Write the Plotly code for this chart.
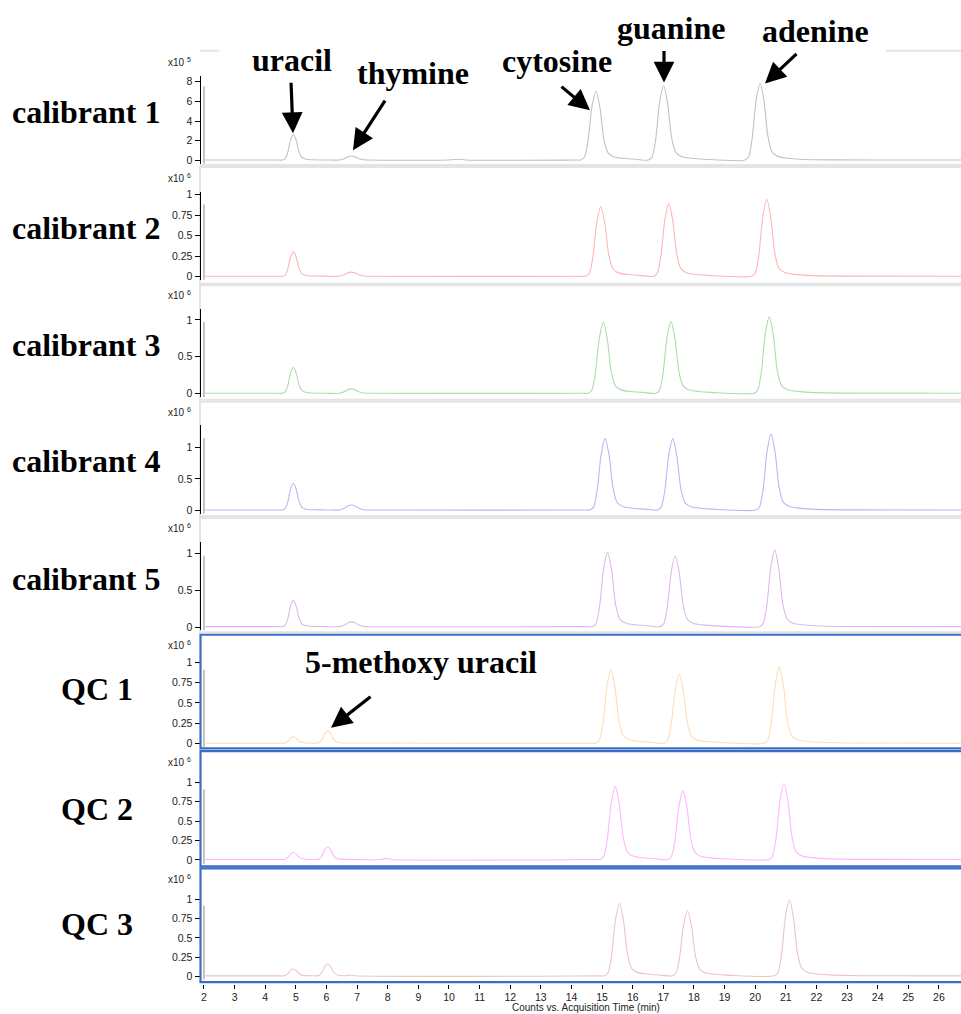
import plotly.graph_objects as go

W, H = 961, 1014

# ---------------- data ----------------
PANEL_NAMES = ["calibrant 1", "calibrant 2", "calibrant 3", "calibrant 4", "calibrant 5", "QC 1", "QC 2", "QC 3"]
SCALE_EXP = ["5", "6", "6", "6", "6", "6", "6", "6"]
LINE_COLORS = ["#c2c2c2", "#ffb6b6", "#addcad", "#b8b8f5", "#ddb8e8", "#ffdcb4", "#ffb6ff", "#e8c6c6"]

U10 = [4.56, 4.65, 4.74, 4.83, 4.92, 5.01, 5.10, 5.20, 5.34, 5.52]
TH8 = [6.42, 6.60, 6.72, 6.82, 6.92, 7.04, 7.22, 7.37]
M10 = [5.68, 5.77, 5.86, 5.95, 6.04, 6.13, 6.22, 6.32, 6.46, 6.64]

CAL1_T = [2.0, 4.4] + U10 + [6.0] + TH8 + [10.0, 10.28, 10.55, 14.2,
          14.30, 14.42, 14.54, 14.67, 14.80, 14.93, 15.06, 15.20, 15.40, 15.70, 16.10,
          16.51, 16.63, 16.75, 16.88, 17.01, 17.14, 17.27, 17.41, 17.61, 17.91, 18.31,
          19.66, 19.78, 19.90, 20.03, 20.16, 20.29, 20.42, 20.56, 20.76, 21.06, 21.46,
          22.5, 25.8, 26.72]
CAL1_Y = [0.03, 0.03, 0.03, 0.16, 0.86, 2.11, 2.63, 2.06, 0.91, 0.29, 0.11, 0.06, 0.04,
          0.04, 0.20, 0.39, 0.44, 0.38, 0.20, 0.06, 0.04, 0.04, 0.12, 0.04, 0.03,
          0.03, 0.31, 1.99, 5.49, 7.03, 5.35, 2.13, 0.73, 0.35, 0.21, 0.11,
          0.03, 0.33, 2.14, 5.92, 7.58, 5.77, 2.30, 0.79, 0.37, 0.22, 0.12,
          0.03, 0.34, 2.21, 6.10, 7.81, 5.94, 2.36, 0.81, 0.38, 0.22, 0.12,
          0.05, 0.04, 0.03]

CAL2_T = [2.0, 4.4] + U10 + [6.0] + TH8 + [14.3,
          14.46, 14.58, 14.70, 14.83, 14.96, 15.09, 15.22, 15.36, 15.56, 15.86, 16.26,
          16.68, 16.80, 16.92, 17.05, 17.18, 17.31, 17.44, 17.58, 17.78, 18.08, 18.48,
          19.88, 20.00, 20.12, 20.25, 20.38, 20.51, 20.64, 20.78, 20.98, 21.28, 21.68,
          23.0, 26.72]
CAL2_Y = [0.005, 0.005, 0.005, 0.02, 0.101, 0.245, 0.305, 0.239, 0.107, 0.035, 0.014, 0.008, 0.006,
          0.005, 0.025, 0.049, 0.055, 0.048, 0.025, 0.008, 0.005, 0.005,
          0.005, 0.039, 0.243, 0.668, 0.855, 0.651, 0.26, 0.09, 0.043, 0.026, 0.015,
          0.005, 0.040, 0.253, 0.695, 0.89, 0.678, 0.271, 0.094, 0.045, 0.027, 0.016,
          0.005, 0.042, 0.267, 0.734, 0.94, 0.716, 0.286, 0.099, 0.047, 0.028, 0.016,
          0.007, 0.005]

CAL3_T = [2.0, 4.4] + U10 + [6.0] + TH8 + [14.4,
          14.54, 14.66, 14.78, 14.91, 15.04, 15.17, 15.30, 15.44, 15.64, 15.94, 16.34,
          16.75, 16.87, 16.99, 17.12, 17.25, 17.38, 17.51, 17.65, 17.85, 18.15, 18.55,
          19.96, 20.08, 20.20, 20.33, 20.46, 20.59, 20.72, 20.86, 21.06, 21.36, 21.76,
          23.0, 26.72]
CAL3_Y = [0.005, 0.005, 0.005, 0.023, 0.117, 0.285, 0.355, 0.278, 0.124, 0.04, 0.016, 0.009, 0.006,
          0.005, 0.029, 0.058, 0.065, 0.056, 0.029, 0.008, 0.005, 0.005,
          0.005, 0.043, 0.274, 0.754, 0.965, 0.735, 0.293, 0.101, 0.048, 0.029, 0.017,
          0.005, 0.044, 0.277, 0.762, 0.975, 0.742, 0.296, 0.102, 0.049, 0.029, 0.017,
          0.005, 0.046, 0.295, 0.812, 1.04, 0.792, 0.316, 0.109, 0.052, 0.031, 0.017,
          0.007, 0.005]

CAL4_T = [2.0, 4.4] + U10 + [6.0] + TH8 + [14.45,
          14.60, 14.72, 14.84, 14.97, 15.10, 15.23, 15.36, 15.50, 15.70, 16.00, 16.40,
          16.81, 16.93, 17.05, 17.18, 17.31, 17.44, 17.57, 17.71, 17.91, 18.21, 18.61,
          20.02, 20.14, 20.26, 20.39, 20.52, 20.65, 20.78, 20.92, 21.12, 21.42, 21.82,
          23.0, 26.72]
CAL4_Y = [0.005, 0.005, 0.005, 0.026, 0.141, 0.345, 0.43, 0.337, 0.150, 0.048, 0.018, 0.009, 0.006,
          0.005, 0.037, 0.075, 0.085, 0.073, 0.037, 0.009, 0.005, 0.005,
          0.005, 0.050, 0.323, 0.890, 1.14, 0.868, 0.346, 0.119, 0.056, 0.033, 0.019,
          0.005, 0.050, 0.323, 0.890, 1.14, 0.868, 0.346, 0.119, 0.056, 0.033, 0.019,
          0.005, 0.053, 0.342, 0.945, 1.21, 0.921, 0.367, 0.126, 0.059, 0.035, 0.019,
          0.007, 0.005]

CAL5_T = [2.0, 4.4] + U10 + [6.0] + TH8 + [14.5,
          14.68, 14.80, 14.92, 15.05, 15.18, 15.31, 15.44, 15.58, 15.78, 16.08, 16.48,
          16.89, 17.01, 17.13, 17.26, 17.39, 17.52, 17.65, 17.79, 17.99, 18.29, 18.69,
          20.14, 20.26, 20.38, 20.51, 20.64, 20.77, 20.90, 21.04, 21.24, 21.54, 21.94,
          23.0, 26.72]
CAL5_Y = [0.005, 0.005, 0.005, 0.023, 0.119, 0.289, 0.36, 0.282, 0.126, 0.041, 0.016, 0.009, 0.006,
          0.005, 0.031, 0.062, 0.07, 0.060, 0.031, 0.008, 0.005, 0.005,
          0.005, 0.045, 0.286, 0.789, 1.01, 0.769, 0.307, 0.106, 0.050, 0.030, 0.017,
          0.005, 0.043, 0.272, 0.75, 0.96, 0.731, 0.292, 0.101, 0.048, 0.029, 0.016,
          0.005, 0.046, 0.295, 0.812, 1.04, 0.792, 0.316, 0.109, 0.052, 0.031, 0.017,
          0.007, 0.005]

QC1_T = [2.0, 4.4] + U10 + M10 + [14.6,
         14.79, 14.91, 15.03, 15.16, 15.29, 15.42, 15.55, 15.69, 15.89, 16.19, 16.59,
         17.02, 17.14, 17.26, 17.39, 17.52, 17.65, 17.78, 17.92, 18.12, 18.42, 18.82,
         20.29, 20.41, 20.53, 20.66, 20.79, 20.92, 21.05, 21.19, 21.39, 21.69, 22.09,
         23.5, 26.72]
QC1_Y = [0.005, 0.005, 0.005, 0.009, 0.031, 0.069, 0.085, 0.067, 0.032, 0.013, 0.007, 0.006,
         0.005, 0.013, 0.055, 0.129, 0.16, 0.126, 0.058, 0.021, 0.01, 0.007, 0.005,
         0.005, 0.041, 0.258, 0.711, 0.91, 0.693, 0.277, 0.096, 0.046, 0.028, 0.016,
         0.005, 0.039, 0.243, 0.668, 0.855, 0.651, 0.26, 0.09, 0.043, 0.026, 0.015,
         0.005, 0.043, 0.268, 0.738, 0.945, 0.719, 0.287, 0.099, 0.047, 0.029, 0.016,
         0.007, 0.005]

QC2_T = [2.0, 4.4] + U10 + M10 + [7.75, 7.95, 8.15, 14.75,
         14.93, 15.05, 15.17, 15.30, 15.43, 15.56, 15.69, 15.83, 16.03, 16.33, 16.73,
         17.14, 17.26, 17.38, 17.51, 17.64, 17.77, 17.90, 18.04, 18.24, 18.54, 18.94,
         20.44, 20.56, 20.68, 20.81, 20.94, 21.07, 21.20, 21.34, 21.54, 21.84, 22.24,
         23.5, 26.72]
QC2_Y = [0.005, 0.005, 0.005, 0.010, 0.034, 0.077, 0.095, 0.075, 0.036, 0.014, 0.008, 0.006,
         0.005, 0.013, 0.058, 0.137, 0.17, 0.134, 0.061, 0.022, 0.01, 0.007,
         0.005, 0.02, 0.005, 0.005,
         0.005, 0.043, 0.268, 0.738, 0.945, 0.719, 0.287, 0.099, 0.047, 0.029, 0.016,
         0.005, 0.040, 0.253, 0.695, 0.89, 0.678, 0.271, 0.094, 0.045, 0.027, 0.016,
         0.005, 0.044, 0.279, 0.769, 0.985, 0.75, 0.299, 0.103, 0.049, 0.030, 0.017,
         0.007, 0.005]

QC3_T = [2.0, 4.4] + U10 + M10 + [6.78, 6.92, 14.9,
         15.07, 15.19, 15.31, 15.44, 15.57, 15.70, 15.83, 15.97, 16.17, 16.47, 16.87,
         17.29, 17.41, 17.53, 17.66, 17.79, 17.92, 18.05, 18.19, 18.39, 18.69, 19.09,
         20.62, 20.74, 20.86, 20.99, 21.12, 21.25, 21.38, 21.52, 21.72, 22.02, 22.42,
         23.5, 26.72]
QC3_Y = [0.005, 0.005, 0.005, 0.010, 0.034, 0.077, 0.095, 0.075, 0.036, 0.014, 0.008, 0.006,
         0.005, 0.013, 0.055, 0.129, 0.16, 0.126, 0.058, 0.021, 0.01, 0.007,
         0.016, 0.006, 0.005,
         0.005, 0.043, 0.268, 0.738, 0.945, 0.719, 0.287, 0.099, 0.047, 0.029, 0.016,
         0.005, 0.039, 0.243, 0.668, 0.855, 0.651, 0.26, 0.09, 0.043, 0.026, 0.015,
         0.005, 0.045, 0.282, 0.777, 0.995, 0.757, 0.302, 0.104, 0.050, 0.030, 0.017,
         0.007, 0.005]

TRACE_T = [CAL1_T, CAL2_T, CAL3_T, CAL4_T, CAL5_T, QC1_T, QC2_T, QC3_T]
TRACE_Y = [CAL1_Y, CAL2_Y, CAL3_Y, CAL4_Y, CAL5_Y, QC1_Y, QC2_Y, QC3_Y]
# height of the grey start-of-run line at t = 2.0 min
START_T = 2.0
START_TOP = [7.5, 0.88, 0.97, 1.15, 0.965, 0.91, 0.91, 0.92]

Y_TICKS = [[0, 2, 4, 6, 8], [0, 0.25, 0.5, 0.75, 1], [0, 0.5, 1], [0, 0.5, 1], [0, 0.5, 1],
           [0, 0.25, 0.5, 0.75, 1], [0, 0.25, 0.5, 0.75, 1], [0, 0.25, 0.5, 0.75, 1]]
X_TICKS = list(range(2, 27))

# ---------------- layout geometry (pixels) ----------------
AX_TOP = [72.3, 189, 307, 424, 541, 659.3, 777, 893.3]
AX_BOT = [160.8, 277.5, 395.7, 512.8, 630, 748, 865, 981.5]
Y_RANGE = [[-0.354, 8.586], [-0.039, 1.033], [-0.05, 1.144], [-0.055, 1.348],
           [-0.044, 1.153], [-0.049, 1.037], [-0.051, 1.077], [-0.045, 1.096]]
EXP_Y = [58.5, 175.5, 293, 410, 527.5, 645, 762.5, 880.5]
LABEL_X = [86, 86, 86, 86, 86, 97, 97, 97]
LABEL_Y = [109, 225, 343, 460, 578, 689, 810, 925]
LABEL_SIZE = [32, 32, 32, 32, 32, 32, 32, 32]
X_LEFT = 200.5
X_RANGE = [1.886, 26.72]


def px(x):
    return x / W


def py(y):
    return 1 - y / H


for t, v in zip(TRACE_T, TRACE_Y):
    assert len(t) == len(v), (len(t), len(v))

fig = go.Figure()
layout = dict(
    width=W, height=H, autosize=False,
    margin=dict(l=0, r=0, t=0, b=0),
    paper_bgcolor="white", plot_bgcolor="rgba(0,0,0,0)",
    showlegend=False,
    xaxis=dict(domain=[px(X_LEFT), 1], range=X_RANGE, anchor="free", position=py(985.5),
               tickvals=X_TICKS, ticks="outside", ticklen=4, tickcolor="black", tickwidth=1,
               showgrid=False, zeroline=False, showline=False,
               tickfont=dict(family="Liberation Sans, Arial", size=10.5, color="#222")),
)

for i in range(8):
    yname = "y" if i == 0 else f"y{i + 1}"
    lname = "yaxis" if i == 0 else f"yaxis{i + 1}"
    layout[lname] = dict(
        domain=[py(AX_BOT[i]), py(AX_TOP[i])], range=Y_RANGE[i], anchor="x",
        tickvals=Y_TICKS[i], ticktext=[f"{v:g}" for v in Y_TICKS[i]],
        ticks="outside", ticklen=5, tickcolor="black", tickwidth=1,
        showline=True, linecolor="black", linewidth=1,
        showgrid=False, zeroline=False,
        tickfont=dict(family="Liberation Sans, Arial", size=10.5, color="#222"))
    # grey start line
    fig.add_trace(go.Scatter(x=[START_T, START_T], y=[Y_RANGE[i][0], START_TOP[i]], mode="lines",
                             line=dict(color="#8a8a8a", width=1), xaxis="x", yaxis=yname,
                             hoverinfo="skip"))
    fig.add_trace(go.Scatter(x=TRACE_T[i], y=TRACE_Y[i], mode="lines",
                             line=dict(color=LINE_COLORS[i], width=1.1, shape="spline", smoothing=0.8),
                             xaxis="x", yaxis=yname, name=PANEL_NAMES[i]))

fig.update_layout(**layout)

shapes = []
GRAY = "#e4e4e4"
BLUE = "#3a6ec4"
# calibrant frames
CAL_FRAMES = [(47, 162), (164, 281.5), (283, 398), (400, 515), (517, 632)]
for k, (t0, b0) in enumerate(CAL_FRAMES):
    if k == 0:
        for xa, xb in [(X_LEFT - 0.5, 219), (886, 965)]:
            shapes.append(dict(type="line", xref="paper", yref="paper", x0=px(xa), x1=px(xb),
                               y0=py(t0), y1=py(t0), line=dict(color=GRAY, width=2)))
        shapes.append(dict(type="line", xref="paper", yref="paper", x0=px(X_LEFT - 0.5), x1=px(965),
                           y0=py(b0), y1=py(b0), line=dict(color=GRAY, width=2)))
    else:
        shapes.append(dict(type="rect", xref="paper", yref="paper", x0=px(X_LEFT - 0.5), x1=px(965),
                           y0=py(b0), y1=py(t0), line=dict(color=GRAY, width=2), layer="below"))
QC_FRAMES = [(634.5, 748.8), (751.5, 867.5), (869.5, 984)]
for t0, b0 in QC_FRAMES:
    shapes.append(dict(type="rect", xref="paper", yref="paper", x0=px(X_LEFT), x1=px(965),
                       y0=py(b0), y1=py(t0), line=dict(color=BLUE, width=2.2)))

annotations = []
for i in range(8):
    annotations.append(dict(x=px(LABEL_X[i]), y=py(LABEL_Y[i]), xref="paper", yref="paper",
                            text=f"<b>{PANEL_NAMES[i]}</b>", showarrow=False,
                            xanchor="center", yanchor="middle",
                            font=dict(family="Liberation Serif, Times New Roman", size=LABEL_SIZE[i],
                                      color="black")))
    annotations.append(dict(x=px(193), y=py(EXP_Y[i]), xref="paper", yref="paper",
                            text=f"x10 <sup>{SCALE_EXP[i]}</sup>", showarrow=False,
                            xanchor="right", yanchor="middle",
                            font=dict(family="Liberation Sans, Arial", size=10, color="#222")))

COMPOUNDS = ["uracil", "thymine", "cytosine", "guanine", "adenine", "5-methoxy uracil"]
TEXT_POS = [(292, 56), (413, 69), (557, 57), (671, 24), (815, 27), (421, 662)]
ARROW_HEAD = [(293, 130), (353, 147), (590, 107), (664, 79), (765, 80), (331, 728)]
ARROW_TAIL = [(291, 78), (386, 96), (560, 82), (664, 46), (798, 49), (372, 696)]
for name, (tx, ty), (hx, hy), (sx, sy) in zip(COMPOUNDS, TEXT_POS, ARROW_HEAD, ARROW_TAIL):
    annotations.append(dict(x=px(tx), y=py(ty), xref="paper", yref="paper", text=f"<b>{name}</b>",
                            showarrow=False, xanchor="center", yanchor="middle",
                            font=dict(family="Liberation Serif, Times New Roman", size=32, color="black")))
    annotations.append(dict(x=px(hx), y=py(hy), xref="paper", yref="paper", text="",
                            showarrow=True, ax=sx - hx, ay=sy - hy, axref="pixel", ayref="pixel",
                            arrowhead=2, arrowsize=1.3, arrowwidth=3.2, arrowcolor="black", standoff=0))

annotations.append(dict(x=px(586), y=py(1009), xref="paper", yref="paper",
                        text="Counts vs. Acquisition Time (min)", showarrow=False,
                        xanchor="center", yanchor="middle",
                        font=dict(family="Liberation Sans, Arial", size=10, color="#222")))

fig.update_layout(shapes=shapes, annotations=annotations)
fig.write_html("out.html", config={"displayModeBar": False},
               post_script="document.body.style.margin='0';")
